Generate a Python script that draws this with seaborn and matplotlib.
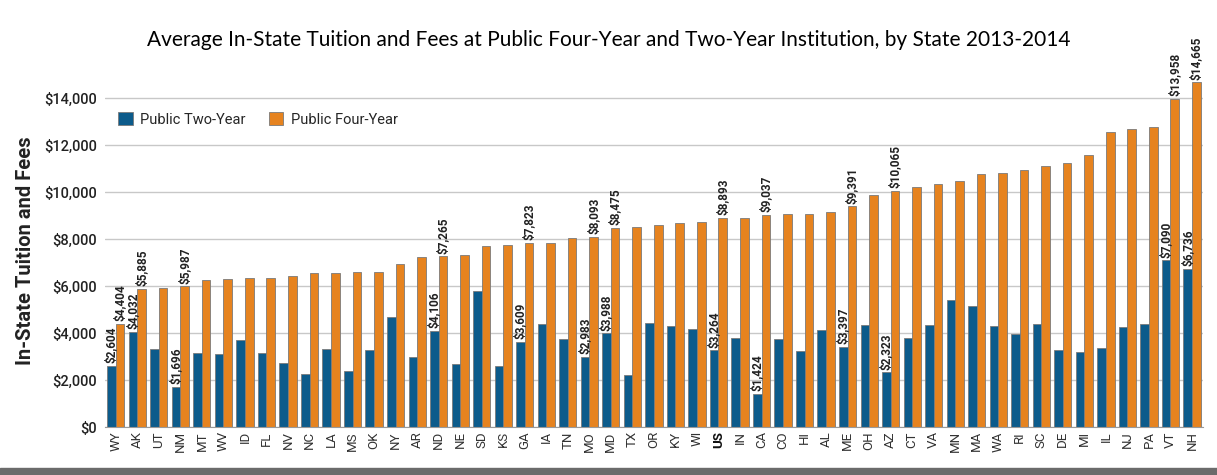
import pandas as pd
import numpy as np
import matplotlib
matplotlib.use("Agg")
import matplotlib.pyplot as plt
import seaborn as sns

# Data (2013-14, in dollars)
states = ["WY", "AK", "UT", "NM", "MT", "WV", "ID", "FL", "NV", "NC", "LA", "MS", "OK",
          "NY", "AR", "ND", "NE", "SD", "KS", "GA", "IA", "TN", "MO", "MD", "TX", "OR",
          "KY", "WI", "US", "IN", "CA", "CO", "HI", "AL", "ME", "OH", "AZ", "CT", "VA",
          "MN", "MA", "WA", "RI", "SC", "DE", "MI", "IL", "NJ", "PA", "VT", "NH"]
two_year = [2604, 4032, 3314, 1696, 3170, 3114, 3714, 3140, 2714, 2257, 3314, 2400, 3285,
            4685, 2970, 4106, 2670, 5795, 2585, 3609, 4390, 3750, 2983, 3988, 2215, 4420,
            4300, 4175, 3264, 3805, 1424, 3765, 3240, 4148, 3397, 4360, 2323, 3778, 4347,
            5398, 5142, 4290, 3950, 4403, 3267, 3210, 3380, 4276, 4403, 7090, 6736]
four_year = [4404, 5885, 5928, 5987, 6243, 6285, 6340, 6357, 6414, 6543, 6571, 6585, 6600,
             6957, 7230, 7265, 7300, 7713, 7730, 7823, 7830, 8025, 8093, 8475, 8510, 8580,
             8680, 8720, 8893, 8905, 9037, 9075, 9077, 9133, 9391, 9886, 10065, 10200, 10355,
             10455, 10781, 10795, 10923, 11122, 11236, 11590, 12543, 12700, 12784, 13958, 14665]
labeled = ["WY", "AK", "NM", "ND", "GA", "MO", "MD", "US", "CA", "ME", "AZ", "VT", "NH"]
series = ["Public Two-Year", "Public Four-Year"]
colors = ["#0c5b8b", "#e6831f"]

df = pd.DataFrame({
    "state": states * 2,
    "type": [series[0]] * len(states) + [series[1]] * len(states),
    "cost": two_year + four_year,
})

narrow = ["Roboto", "DejaVu Sans"]

sns.set_style("white")
fig = plt.figure(figsize=(12.17, 4.75), dpi=100)
ax = fig.add_axes([0.0863, 0.101, 0.902, 0.742])

sns.barplot(data=df, x="state", y="cost", hue="type", order=states, hue_order=series,
            palette=colors, edgecolor="#7a7a7a", linewidth=0.6, saturation=1, ax=ax)

# value labels above selected states
for cont in ax.containers:
    for st, bar in zip(states, cont):
        if st in labeled:
            h = bar.get_height()
            ax.text(bar.get_x() + bar.get_width() / 2, h + 120, f"${h:,.0f}",
                    rotation=90, ha="center", va="bottom", fontsize=8.5,
                    fontweight="bold", family=narrow, color="#222222", clip_on=False)

ax.set_ylim(0, 15000)
ax.set_xlim(-0.5, len(states) - 0.5)
ax.set_yticks(np.arange(0, 14001, 2000))
ax.set_yticklabels([f"${v:,}" for v in range(0, 14001, 2000)], family=narrow,
                   fontsize=10.5, fontweight="medium", color="#222222")
ax.yaxis.grid(True, color="#c8c8c8", linewidth=1)
ax.set_axisbelow(True)
for side in ["top", "right", "left"]:
    ax.spines[side].set_visible(False)
ax.spines["bottom"].set_color("#9a9a9a")
ax.tick_params(axis="y", length=0, pad=6)
ax.tick_params(axis="x", length=0, pad=3)

ax.set_xticks(range(len(states)))
ax.set_xticklabels(states, rotation=90, fontsize=9.5, family=narrow, color="#333333")
for lbl in ax.get_xticklabels():
    if lbl.get_text() == "US":
        lbl.set_fontweight("bold")
        lbl.set_color("#111111")

ax.set_xlabel("")
ax.set_ylabel("In-State Tuition and Fees", family=narrow, fontsize=14.5,
              fontweight="bold", color="#222222", labelpad=6)

ax.legend(loc="upper left", bbox_to_anchor=(0.0, 0.93), ncol=2, frameon=False,
          prop={"family": narrow, "size": 10.5}, handlelength=1.0, handleheight=1.0,
          columnspacing=1.6, handletextpad=0.5)

fig.text(0.5, 0.915, "Average In-State Tuition and Fees at Public Four-Year and Two-Year "
         "Institution, by State 2013-2014", ha="center", va="center", fontsize=15,
         family=["Lato", "DejaVu Sans"], color="black")

# dark strip along the bottom edge, as in the source image
fig.patches.append(plt.Rectangle((0, 0), 1, 0.014, transform=fig.transFigure,
                                 color="#6b6b6b", zorder=0))

fig.savefig("out.png", dpi=100)
